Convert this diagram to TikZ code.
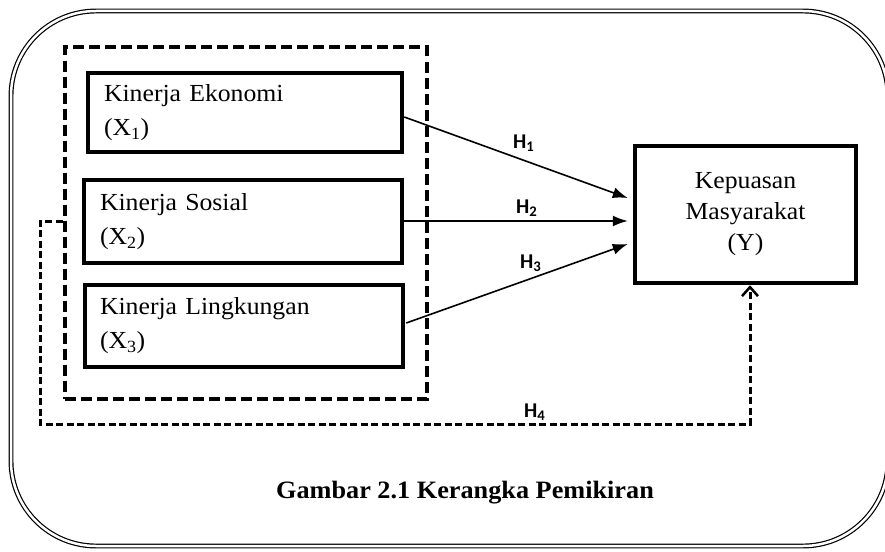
\documentclass[tikz,border=0pt]{standalone}
\usepackage{fontspec}
\setmainfont[FakeStretch=1.05]{Liberation Serif}
\newfontfamily\hfont{Carlito}
\usetikzlibrary{arrows.meta,calc}
\tikzset{
  varbox/.style={draw, line width=4.5pt, inner xsep=0pt, inner ysep=0pt, align=left,
    font=\fontsize{24.5}{34}\selectfont},
  grpbox/.style={draw, line width=4pt, dash pattern=on 11pt off 5pt},
  ybox/.style={draw, line width=4.5pt, align=center, font=\fontsize{24.5}{31}\selectfont},
  hyp/.style={line width=1.6pt, -{Latex[length=15pt,width=11pt]}},
  hypdash/.style={line width=3pt, dash pattern=on 7pt off 3.5pt, -{Straight Barb[length=9pt,width=16pt,line width=2.5pt]}},
  hlab/.style={anchor=base west, inner sep=0pt, font=\hfont\bfseries\fontsize{21}{24}\selectfont},
  frame/.style={line width=1.2pt, double, double distance=2.5pt, rounded corners=85pt}
}
\begin{document}
\begin{tikzpicture}[x=1pt,y=-1pt]
\useasboundingbox (0,0) rectangle (885,551);
\draw[frame] (11,11) rectangle (888,546);

\node[grpbox, minimum width=362pt, minimum height=351pt] (grp) at (245.5,223) {};
\node[varbox, minimum width=314pt, minimum height=79pt, text width=282pt] (b1) at (245,112.5)
  {Kinerja Ekonomi\\(X\textsubscript{1})};
\node[varbox, minimum width=318pt, minimum height=83pt, text width=286pt] (b2) at (243,221.5)
  {Kinerja Sosial\\(X\textsubscript{2})};
\node[varbox, minimum width=318pt, minimum height=82pt, text width=288pt] (b3) at (244,326)
  {Kinerja Lingkungan\\(X\textsubscript{3})};
\node[ybox, minimum width=221pt, minimum height=137pt] (Y) at (745.5,214.5)
  {Kepuasan\\Masyarakat\\(Y)};

\draw[hyp] ($(b1.east)+(0,4.5)$) -- ($(Y.west)+(-5,-16.5)$);
\draw[hyp] ($(b2.east)+(0,-0.5)$) -- ($(Y.west)+(-5,6.5)$);
\draw[hyp] ($(b3.east)+(1,-3)$) -- ($(Y.west)+(-5,29.5)$);

\coordinate (c1) at (40,424);
\draw[hypdash] ($(grp.west)+(0,-2)$) -| (c1) -| ($(Y.south)+(4.5,0)$);

\node[hlab] (h1) at (513,148) {H\textsubscript{1}};
\node[hlab] (h2) at (516,213) {H\textsubscript{2}};
\node[hlab] (h3) at (520,268) {H\textsubscript{3}};
\node[hlab] (h4) at (524,417) {H\textsubscript{4}};

\node[anchor=base, inner sep=0pt, font=\bfseries\fontsize{25}{28}\selectfont] (cap) at (465,498)
  {Gambar 2.1 Kerangka Pemikiran};
\end{tikzpicture}
\end{document}
